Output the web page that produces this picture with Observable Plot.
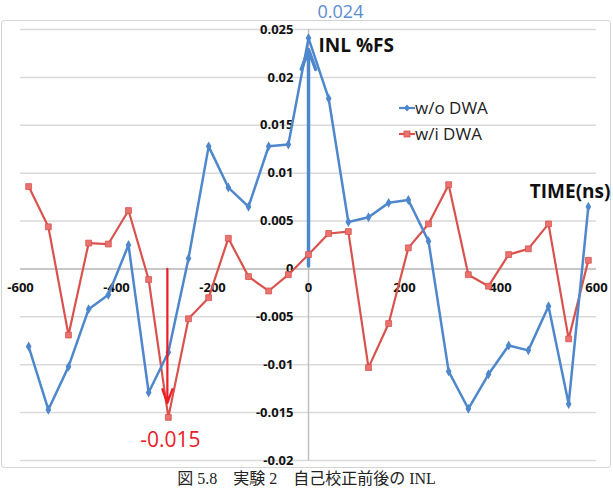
<!DOCTYPE html>
<html>
<head>
<meta charset="utf-8">
<script src="https://cdn.jsdelivr.net/npm/d3@7"></script>
<script src="https://cdn.jsdelivr.net/npm/@observablehq/plot@0.6"></script>
<style>
  html, body { margin: 0; padding: 0; background: #fff; }
  #wrap { position: relative; width: 613px; height: 489px; overflow: hidden; font-family: "Open Sans", sans-serif; }
  #border { position: absolute; left: 1px; top: 20px; width: 608px; height: 446px; border: 1.5px solid #d4d4d4; border-radius: 3px; }
  #chart { position: absolute; left: 0; top: 0; }
  #legend { position: absolute; left: 399px; top: 95px; font-size: 17px; color: #222; line-height: 26px; }
  #legend .row { display: flex; align-items: center; height: 26px; }
  #caption { position: absolute; left: 0; width: 613px; top: 470px; text-align: center; font-family: "Liberation Serif", "Noto Sans CJK JP", serif; font-size: 16px; color: #222; line-height: 18px; white-space: pre; }
</style>
</head>
<body>
<div id="wrap">
  <div id="border"></div>
  <div id="chart"></div>
  <div id="legend"></div>
  <div id="caption"></div>
</div>
<script>
// ---- data ----
const timeNs = [-583,-542,-500,-458,-417,-375,-333,-292,-250,-208,-167,-125,-83,-42,0,42,83,125,167,208,250,292,333,375,417,458,500,542,583];
const woDWA = [-0.0081,-0.0147,-0.0102,-0.0042,-0.0027,0.0025,-0.0129,-0.0087,0.0011,0.0128,0.0085,0.0065,0.0128,0.0130,0.0241,0.0178,0.0049,0.0054,0.0069,0.0072,0.0029,-0.0107,-0.0146,-0.0110,-0.0080,-0.0085,-0.0039,-0.0141,0.0065];
const wiDWA = [0.0086,0.0044,-0.0069,0.0027,0.0026,0.0061,-0.0011,-0.0155,-0.0052,-0.0030,0.0032,-0.0008,-0.0023,-0.0006,0.0015,0.0037,0.0039,-0.0103,-0.0057,0.0022,0.0047,0.0088,-0.0006,-0.0018,0.0015,0.0021,0.0047,-0.0073,0.0009];
const seriesNames = ["w/o DWA", "w/i DWA"];
const xTicks = [-600,-400,-200,0,200,400,600];
const xTickLabels = ["-600","-400","-200","0","200","400","600"];
const yTicks = [0.025,0.02,0.015,0.01,0.005,0,-0.005,-0.01,-0.015,-0.02];
const yTickLabels = ["0.025","0.02","0.015","0.01","0.005","0","-0.005","-0.01","-0.015","-0.02"];
const maxLabel = "0.024";
const minLabel = "-0.015";
const maxArrow = [{x: 0, y1: 0.0003, y2: 0.0229}];
const minArrow = [{x: -294, y1: 0.0, y2: -0.0140}];
const yAxisTitle = "INL %FS";
const xAxisTitle = "TIME(ns)";
const caption = "図 5.8　実験 2　自己校正前後の INL";

// ---- styles ----
const BLUE = "#4f87cc", RED = "#d9524e", RED_FILL = "#e8736f", GRID = "#d9d9d9", AXIS = "#bfbfbf";

const blueData = timeNs.map((t, i) => ({t, v: woDWA[i]}));
const redData = timeNs.map((t, i) => ({t, v: wiDWA[i]}));
const xT = xTicks.map((v, i) => ({v, label: xTickLabels[i]}));
const yT = yTicks.map((v, i) => ({v, label: yTickLabels[i]}));

const chart = Plot.plot({
  width: 613,
  height: 470,
  marginLeft: 20,
  marginRight: 17,
  marginTop: 29,
  marginBottom: 10,
  x: {domain: [-600, 600], axis: null},
  y: {domain: [-0.02, 0.025], axis: null},
  style: {fontFamily: "Open Sans, sans-serif", background: "transparent"},
  marks: [
    Plot.ruleY(yTicks, {stroke: GRID, strokeWidth: 1.5}),
    Plot.ruleX([0], {y1: -0.02, y2: 0.025, stroke: AXIS, strokeWidth: 1.5}),
    Plot.ruleY([0], {stroke: AXIS, strokeWidth: 1.5}),
    Plot.text(xT, {x: "v", y: () => 0, text: "label", dy: 19, fontWeight: "bold", fontSize: 13, fill: "#111"}),
    Plot.text(yT, {x: () => 0, y: "v", text: "label", dx: -15, textAnchor: "end", fontWeight: "bold", fontSize: 13, fill: "#111"}),
    Plot.arrow(maxArrow, {x1: "x", x2: "x", y1: "y1", y2: "y2", stroke: BLUE, strokeWidth: 3.5, headLength: 9, headAngle: 40}),
    Plot.line(redData, {x: "t", y: "v", stroke: RED, strokeWidth: 2.2}),
    Plot.dot(redData, {x: "t", y: "v", symbol: "square", r: 3.3, fill: RED_FILL, stroke: RED, strokeWidth: 0.8}),
    Plot.line(blueData, {x: "t", y: "v", stroke: BLUE, strokeWidth: 2.5}),
    Plot.dot(blueData, {x: "t", y: "v", symbol: "diamond", r: 3, fill: BLUE}),
    Plot.arrow(minArrow, {x1: "x", x2: "x", y1: "y1", y2: "y2", stroke: "#ee1c24", strokeWidth: 2.2, headLength: 10, headAngle: 40}),
    Plot.text([maxLabel], {x: () => 0, y: () => 0.025, text: d => d, dx: 32, dy: -17, fontSize: 18, fill: "#5b8bd0"}),
    Plot.text([minLabel], {x: () => minArrow[0].x, y: () => -0.02, text: d => d, dx: 3, dy: -20, fontSize: 21, fill: "#e8202a"}),
    Plot.text([yAxisTitle], {x: () => 0, y: () => 0.025, text: d => d, dx: 10, dy: 16, textAnchor: "start", fontWeight: "bold", fontSize: 19, fill: "#111"}),
    Plot.text([xAxisTitle], {x: () => 600, y: () => 0.008, text: d => d, dx: 14, textAnchor: "end", fontWeight: "bold", fontSize: 19, fill: "#111"})
  ]
});
document.getElementById("chart").appendChild(chart);

// legend
const legend = document.getElementById("legend");
const legendStyles = [{color: BLUE, marker: "diamond"}, {color: RED, marker: "square"}];
seriesNames.forEach((name, i) => {
  const st = legendStyles[i];
  const row = document.createElement("div");
  row.className = "row";
  const mk = st.marker === "diamond"
    ? `<path d="M8,2.5 L11,6 L8,9.5 L5,6 Z" fill="${st.color}"/>`
    : `<rect x="5" y="3" width="6" height="6" fill="${RED_FILL}" stroke="${st.color}" stroke-width="0.8"/>`;
  row.innerHTML = `<svg width="16" height="12" style="margin-right:0"><line x1="0" y1="6" x2="16" y2="6" stroke="${st.color}" stroke-width="2.2"/>${mk}</svg><span>${name}</span>`;
  legend.appendChild(row);
});
document.getElementById("caption").textContent = caption;
</script>
</body>
</html>
